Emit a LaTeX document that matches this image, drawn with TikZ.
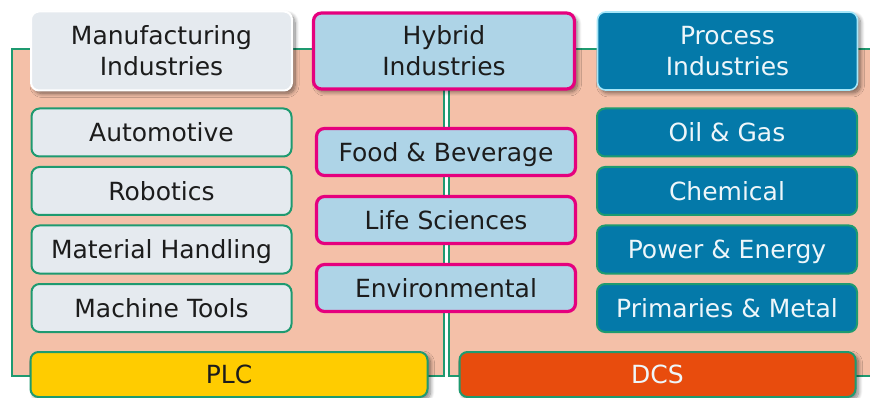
\documentclass[tikz,border=0pt]{standalone}
\usepackage{fontspec}
\setmainfont{DejaVu Sans}
\usetikzlibrary{shadows.blur}
\definecolor{salmon}{HTML}{F4C0A8}
\definecolor{edgegreen}{HTML}{1E9A70}
\definecolor{paleg}{HTML}{E5EAEF}
\definecolor{paleblue}{HTML}{AED4E7}
\definecolor{magentab}{HTML}{E5007E}
\definecolor{procblue}{HTML}{0479A9}
\definecolor{procedge}{HTML}{A6E6F8}
\definecolor{plcyellow}{HTML}{FFCC00}
\definecolor{dcsorange}{HTML}{E84C0D}
\definecolor{inkdark}{HTML}{1C1C1C}
\definecolor{inklight}{HTML}{EEF6FA}
\begin{document}
\begin{tikzpicture}[x=1pt,y=-1pt,
  every node/.style={font=\fontsize{25}{31}\selectfont, align=center, inner sep=0pt, outer sep=0pt},
  panel/.style={fill=salmon, draw=edgegreen, line width=2pt},
  boxbase/.style={rounded corners=8pt, line width=2pt},
  oneline/.style={text height=18.2pt, text depth=0pt},
  headshadow/.style={blur shadow={shadow xshift=3pt, shadow yshift=-3pt, shadow blur radius=4pt, shadow blur steps=10, shadow opacity=50}},
  mfghead/.style={boxbase, fill=paleg, draw=white, headshadow, text=inkdark, minimum width=261pt, minimum height=79pt},
  hybhead/.style={boxbase, fill=paleblue, draw=magentab, line width=3.2pt, headshadow, text=inkdark, minimum width=261pt, minimum height=76pt},
  prochead/.style={boxbase, fill=procblue, draw=procedge, line width=1.6pt, headshadow, text=inklight, minimum width=260pt, minimum height=78pt},
  mfgitem/.style={boxbase, oneline, fill=paleg, draw=edgegreen, text=inkdark, minimum width=260pt, minimum height=48pt},
  hybitem/.style={boxbase, oneline, fill=paleblue, draw=magentab, line width=3.2pt, text=inkdark, minimum width=259pt, minimum height=47pt},
  procitem/.style={boxbase, oneline, fill=procblue, draw=edgegreen, text=inklight, minimum width=260pt, minimum height=48pt},
  ctrlbar/.style={boxbase, oneline, draw=edgegreen, headshadow, minimum height=45pt}
]
\useasboundingbox (0,0) rectangle (870,398);

% two salmon panels whose inner edges form the double rule in the middle
\draw[panel] (12,49) rectangle (444,376);
\draw[panel] (449,49) rectangle (885,376);

% column headings
\node[mfghead]  (mfg)  at (161.5,51) {Manufacturing\\Industries};
\node[hybhead]  (hyb)  at (444,51)   {Hybrid\\Industries};
\node[prochead] (proc) at (727.5,51) {Process\\Industries};

% manufacturing industries
\node[mfgitem] (auto)  at (161.5,132.5) {Automotive};
\node[mfgitem] (robot) at (161.5,191)   {Robotics};
\node[mfgitem] (mat)   at (161.5,249.5) {Material Handling};
\node[mfgitem] (tools) at (161.5,308)   {Machine Tools};

% hybrid industries
\node[hybitem] (food) at (446,152) {Food \& Beverage};
\node[hybitem] (life) at (446,220) {Life Sciences};
\node[hybitem] (env)  at (446,288) {Environmental};

% process industries
\node[procitem] (oil)  at (727,132.5) {Oil \& Gas};
\node[procitem] (chem) at (727,191)   {Chemical};
\node[procitem] (pow)  at (727,249.5) {Power \& Energy};
\node[procitem] (prim) at (727,308)   {Primaries \& Metal};

% control systems
\node[ctrlbar, fill=plcyellow, text=inkdark, minimum width=397pt] (plc) at (229,374.5) {PLC};
\node[ctrlbar, fill=dcsorange, text=inklight, minimum width=396pt] (dcs) at (657.5,374.5) {DCS};
\end{tikzpicture}
\end{document}
